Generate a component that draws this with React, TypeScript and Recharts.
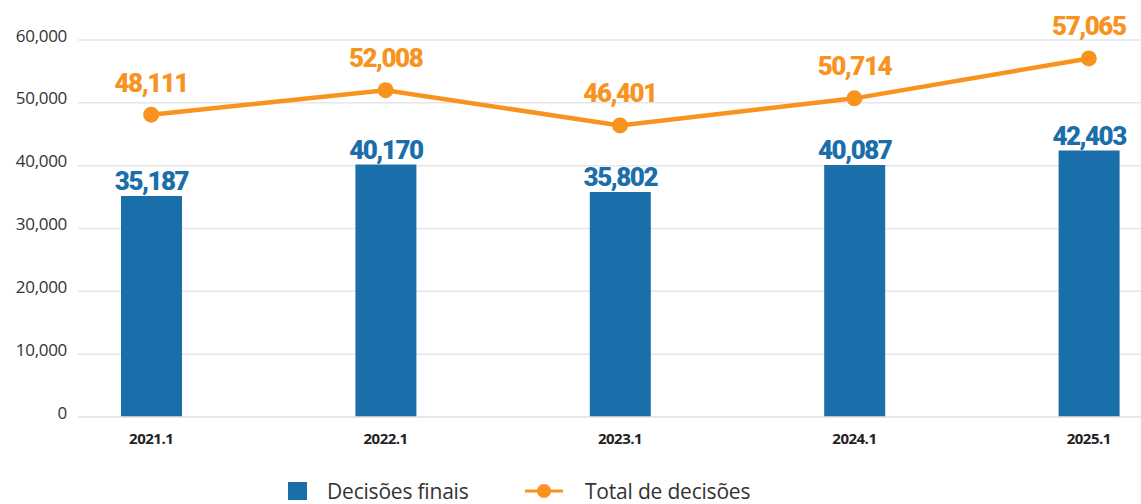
import React from "react";
import {
  ComposedChart,
  Bar,
  Line,
  XAxis,
  YAxis,
  CartesianGrid,
  LabelList,
  Legend,
} from "recharts";

const categories = ["2021.1", "2022.1", "2023.1", "2024.1", "2025.1"];
const decisoesFinais = [35187, 40170, 35802, 40087, 42403];
const totalDecisoes = [48111, 52008, 46401, 50714, 57065];
const yTicks = [0, 10000, 20000, 30000, 40000, 50000, 60000];

const BLUE = "#1a6eaa";
const ORANGE = "#f7931e";

const data = categories.map((c, i) => ({
  name: c,
  finais: decisoesFinais[i],
  total: totalDecisoes[i],
}));

const fmt = (v: number) => v.toLocaleString("en-US");

const YTick = (props: any) => {
  const { x, y, payload } = props;
  return (
    <text
      x={x}
      y={y - 5}
      textAnchor="end"
      dominantBaseline="central"
      fontFamily="'Open Sans', sans-serif"
      fontSize={17}
      letterSpacing={-0.3}
      fill="#333"
    >
      {fmt(payload.value)}
    </text>
  );
};

const XTick = (props: any) => {
  const { x, y, payload } = props;
  return (
    <text
      x={x}
      y={y + 13}
      textAnchor="middle"
      dominantBaseline="central"
      fontFamily="'Open Sans', sans-serif"
      fontWeight={700}
      fontSize={15}
      letterSpacing={-0.5}
      fill="#222"
    >
      {payload.value}
    </text>
  );
};

const BarLabel = (props: any) => {
  const { x, y, width, value } = props;
  return (
    <text
      x={x + width / 2}
      y={y - 6}
      textAnchor="middle"
      fontFamily="Roboto, sans-serif"
      fontWeight={900}
      fontSize={26}
      letterSpacing={-1.5}
      fill={BLUE}
    >
      {fmt(value)}
    </text>
  );
};

const LineLabel = (props: any) => {
  const { x, y, value } = props;
  return (
    <text
      x={x}
      y={y - 23}
      textAnchor="middle"
      fontFamily="Roboto, sans-serif"
      fontWeight={900}
      fontSize={26}
      letterSpacing={-1.5}
      fill={ORANGE}
    >
      {fmt(value)}
    </text>
  );
};

const LegendContent = () => (
  <svg width={1141} height={40} style={{ display: "block" }}>
    <rect x={288} y={12} width={19} height={18} fill={BLUE} />
    <text
      x={327}
      y={29}
      fontFamily="'Open Sans', sans-serif"
      fontSize={21}
      letterSpacing={-0.2}
      fill="#333"
    >
      Decisões finais
    </text>
    <line x1={525} y1={21} x2={563} y2={21} stroke={ORANGE} strokeWidth={3} />
    <circle cx={544} cy={21} r={7} fill={ORANGE} />
    <text
      x={585}
      y={29}
      fontFamily="'Open Sans', sans-serif"
      fontSize={21}
      letterSpacing={-0.2}
      fill="#333"
    >
      Total de decisões
    </text>
  </svg>
);

export default function App() {
  return (
    <div style={{ position: "absolute", left: 0, top: 0, width: 1141, height: 504, overflow: "hidden", background: "#fff" }}>
      <ComposedChart
        width={1141}
        height={504}
        data={data}
        margin={{ top: 40, right: 0, bottom: 0, left: 0 }}
      >
        <CartesianGrid vertical={false} stroke="#e6e6e6" strokeWidth={1.5} />
        <XAxis
          dataKey="name"
          axisLine={{ stroke: "#e6e6e6", strokeWidth: 1.5 }}
          tickLine={false}
          tick={<XTick />}
          height={47}
          padding={{ left: -44, right: -65 }}
          interval={0}
        />
        <YAxis
          domain={[0, 60000]}
          ticks={yTicks}
          axisLine={false}
          tickLine={false}
          tick={<YTick />}
          width={78}
          tickSize={0}
          tickMargin={11}
        />
        <Legend
          verticalAlign="bottom"
          height={40}
          content={<LegendContent />}
          wrapperStyle={{ position: "absolute", left: 0, top: 470, width: 1141, height: 40 }}
        />
        <Bar dataKey="finais" name="Decisões finais" fill={BLUE} barSize={61} isAnimationActive={false}>
          <LabelList dataKey="finais" content={<BarLabel />} />
        </Bar>
        <Line
          dataKey="total"
          name="Total de decisões"
          stroke={ORANGE}
          strokeWidth={4.5}
          dot={{ r: 8, fill: ORANGE, stroke: ORANGE, strokeWidth: 0 }}
          isAnimationActive={false}
        >
          <LabelList dataKey="total" content={<LineLabel />} />
        </Line>
      </ComposedChart>
    </div>
  );
}
